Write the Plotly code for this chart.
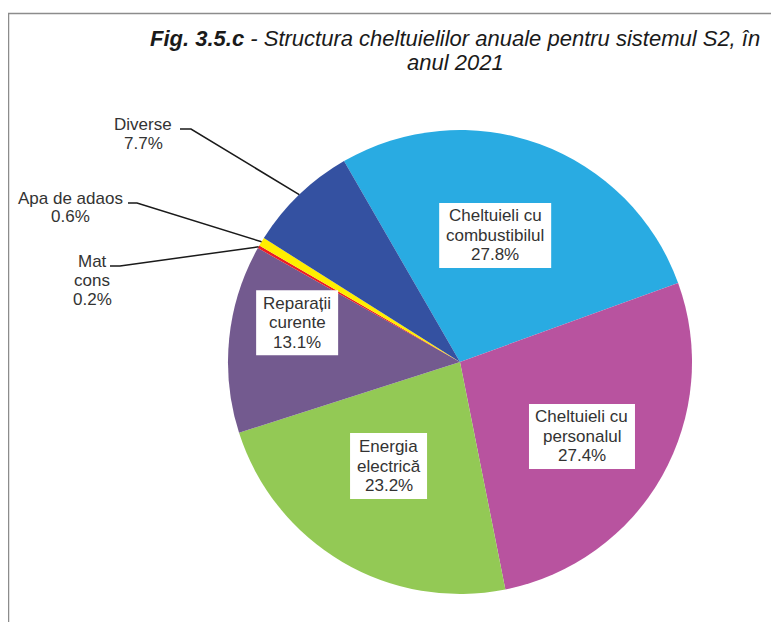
import math
import plotly.graph_objects as go

# ---------------- data ----------------
categories = ["Cheltuieli cu combustibilul", "Cheltuieli cu personalul",
              "Energia electrică", "Reparații curente", "Mat cons",
              "Apa de adaos", "Diverse"]
values = [27.8, 27.4, 23.2, 13.1, 0.2, 0.6, 7.7]
label_lines = [["Cheltuieli cu", "combustibilul"], ["Cheltuieli cu", "personalul"],
               ["Energia", "electrică"], ["Reparații", "curente"], ["Mat", "cons"],
               ["Apa de adaos"], ["Diverse"]]
title_bold = "Fig. 3.5.c"
title_rest = " - Structura cheltuielilor anuale pentru sistemul S2, în"
title_line2 = "anul 2021"

# ---------------- style ----------------
colors = ["#29ABE2", "#B8539F", "#93C955", "#735A8F", "#EA1D25", "#FFEE00", "#3451A1"]
PAGE_W, PAGE_H = 779, 622
OFF = 8                      # default body margin of the html page
W, H = PAGE_W - OFF, PAGE_H - OFF
CX, CY, R = 460, 362, 232    # page pixel coordinates
ROT = -30
FONT = "Liberation Sans, Arial, sans-serif"
TXT = "#333333"
FS = 17

# inside labels: index -> (radius fraction, angle shift deg, box width, box height, line step)
inside_style = {0: (0.566, -4.5, 112, 65, 19.5),
                1: (0.616, 2.0, 106, 65, 19.5),
                2: (0.544, 4.0, 77, 66, 19.5),
                3: (0.722, 7.7, 82, 65, 19.5)}
# outside labels: index -> (text centre x, first line y, leader start x, leader knee x, leader y, line step)
outside_style = {4: (92, 262, 110, 120, 266, 18.5),
                 5: (70, 198, 128, 137, 203, 18.5),
                 6: (143, 125, 180, 191, 129, 18.5)}


def px(x):
    return (x - OFF) / W


def py(y):
    return 1 - (y - OFF) / H


def polar(angle_deg, r):
    a = math.radians(angle_deg)
    return CX + r * math.sin(a), CY - r * math.cos(a)


total = sum(values)
mid_angles = []
cum = 0.0
for v in values:
    mid_angles.append(ROT + 360 * (cum + v / 2) / total)
    cum += v

fig = go.Figure(go.Pie(
    labels=categories, values=values, sort=False, direction="clockwise",
    rotation=ROT, textinfo="none", hoverinfo="label+percent",
    marker=dict(colors=colors, line=dict(width=0)),
    domain=dict(x=[px(CX - R), px(CX + R)], y=[py(CY + R), py(CY - R)]),
    showlegend=False,
))

shapes = []
annotations = []

# border of chart area (right & bottom sides fall outside the picture)
shapes.append(dict(type="rect", xref="paper", yref="paper",
                   x0=px(8.5), x1=1.2, y0=py(13.5), y1=-0.2,
                   line=dict(color="#8C8C8C", width=1.5), fillcolor="rgba(0,0,0,0)",
                   layer="above"))

for i, (rf, dang, bw, bh, step) in inside_style.items():
    cx, cy = polar(mid_angles[i] + dang, rf * R)
    shapes.append(dict(type="rect", xref="paper", yref="paper",
                       x0=px(cx - bw / 2), x1=px(cx + bw / 2),
                       y0=py(cy + bh / 2), y1=py(cy - bh / 2),
                       fillcolor="white", line=dict(width=0), layer="above"))
    lines = label_lines[i] + [f"{values[i]:.1f}%"]
    n = len(lines)
    for k, t in enumerate(lines):
        ly = cy + (k - (n - 1) / 2) * step
        annotations.append(dict(x=px(cx), y=py(ly), xref="paper", yref="paper",
                                text=t, showarrow=False, xanchor="center", yanchor="middle",
                                font=dict(family=FONT, size=FS, color=TXT)))

for i, (tx, ty, lx0, lx1, ly, step) in outside_style.items():
    lines = label_lines[i] + [f"{values[i]:.1f}%"]
    for k, t in enumerate(lines):
        annotations.append(dict(x=px(tx), y=py(ty + k * step), xref="paper", yref="paper",
                                text=t, showarrow=False, xanchor="center", yanchor="middle",
                                font=dict(family=FONT, size=FS, color=TXT)))
    ex, ey = polar(mid_angles[i], R)
    shapes.append(dict(type="path", xref="paper", yref="paper",
                       path=f"M {px(lx0)},{py(ly)} L {px(lx1)},{py(ly)} L {px(ex)},{py(ey)}",
                       line=dict(color="#1A1A1A", width=1.5), layer="above"))

title_font = dict(family=FONT, size=22, color="#1A1A1A")
annotations.append(dict(
    x=px(455), y=py(38), xref="paper", yref="paper", showarrow=False,
    xanchor="center", yanchor="middle",
    text=f"<b><i>{title_bold}</i></b><i>{title_rest}</i>", font=title_font))
annotations.append(dict(
    x=px(455), y=py(62), xref="paper", yref="paper", showarrow=False,
    xanchor="center", yanchor="middle",
    text=f"<i>{title_line2}</i>", font=title_font))

fig.update_layout(width=W, height=H, margin=dict(l=0, r=0, t=0, b=0),
                  paper_bgcolor="white", plot_bgcolor="white",
                  shapes=shapes, annotations=annotations)

fig.write_html("out.html")
